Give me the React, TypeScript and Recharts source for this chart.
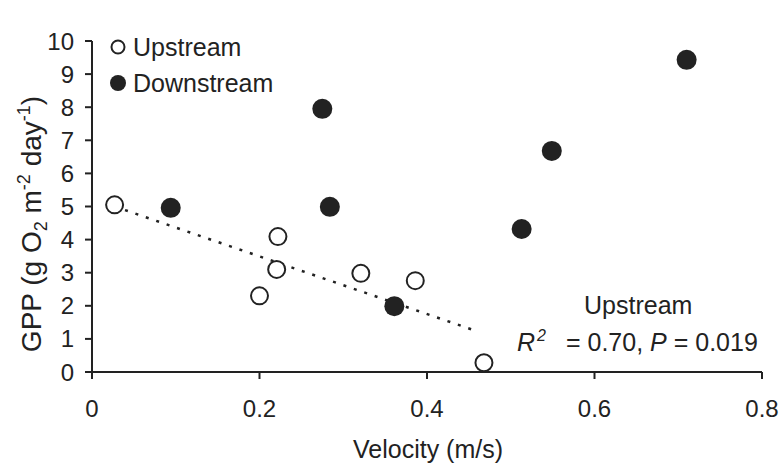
import React from 'react';
import { ScatterChart, Scatter, XAxis, YAxis, ReferenceLine } from 'recharts';

// values
const upstreamVelocity = [0.027, 0.2, 0.222, 0.2205, 0.321, 0.386, 0.468];
const upstreamGpp = [5.05, 2.3, 4.09, 3.1, 2.98, 2.76, 0.28];

const downstreamVelocity = [0.094, 0.275, 0.284, 0.361, 0.513, 0.549, 0.71];
const downstreamGpp = [4.96, 7.95, 4.99, 1.99, 4.32, 6.68, 9.43];

// upstream regression (dotted), end points as drawn
const trendVelocity = [0.027, 0.461];
const trendGpp = [5.0, 1.22];

const xTicks = [0, 0.2, 0.4, 0.6, 0.8];
const yTicks = [0, 1, 2, 3, 4, 5, 6, 7, 8, 9, 10];

const ink = '#222';
const font = '"Liberation Sans", Arial, sans-serif';

const upstream = upstreamVelocity.map((v, i) => ({ x: v, y: upstreamGpp[i] }));
const downstream = downstreamVelocity.map((v, i) => ({ x: v, y: downstreamGpp[i] }));
const trend = trendVelocity.map((v, i) => ({ x: v, y: trendGpp[i] }));

const OpenDot = (p: any) => (
    <circle cx={p.cx} cy={p.cy} r={8.5} fill="#fff" stroke={ink} strokeWidth={2} />
);
const FilledDot = (p: any) => <circle cx={p.cx} cy={p.cy} r={10} fill={ink} />;

const LegendBox = () => (
    <div style={{
        position: 'absolute', left: 108, top: 29, fontFamily: font, fontSize: 25,
        color: ink, lineHeight: '36px'
    }}>
        <div style={{ display: 'flex', alignItems: 'center' }}>
            <svg width={20} height={20} style={{ marginRight: 5 }}>
                <circle cx={10} cy={10} r={6.5} fill="#fff" stroke={ink} strokeWidth={2} />
            </svg>
            Upstream
        </div>
        <div style={{ display: 'flex', alignItems: 'center' }}>
            <svg width={20} height={20} style={{ marginRight: 5 }}>
                <circle cx={10} cy={10} r={8} fill={ink} />
            </svg>
            Downstream
        </div>
    </div>
);

const YTitle = () => (
    <text transform="translate(41,224) rotate(-90)" textAnchor="middle" fill={ink}
        style={{ fontFamily: font, fontSize: 28 }}>
        GPP (g O<tspan dy={6} fontSize={18}>2</tspan>
        <tspan dy={-6}> m</tspan><tspan dy={-11} fontSize={18}>-2</tspan>
        <tspan dy={11}> day</tspan><tspan dy={-11} fontSize={18}>-1</tspan>
        <tspan dy={11}>)</tspan>
    </text>
);

const XTitle = () => (
    <text x={428} y={458} textAnchor="middle" fill={ink} style={{ fontFamily: font, fontSize: 25 }}>
        Velocity (m/s)
    </text>
);

export default function App() {
    return (
        <div style={{ position: 'fixed', left: 0, top: 0, width: 782, height: 464, background: '#fff' }}>
            <ScatterChart width={782} height={464} margin={{ top: 41, right: 20, left: 12, bottom: 32 }}>
                <XAxis
                    type="number"
                    dataKey="x"
                    domain={[0, 0.8]}
                    ticks={xTicks}
                    tickFormatter={(v) => (v === 0 ? '0' : v.toFixed(1))}
                    height={60}
                    tickSize={7}
                    tickMargin={21}
                    stroke={ink}
                    strokeWidth={2}
                    tick={{ fill: ink, fontSize: 24, fontFamily: font }}
                    label={<XTitle />}
                />
                <YAxis
                    type="number"
                    dataKey="y"
                    domain={[0, 10]}
                    ticks={yTicks}
                    width={80}
                    tickSize={7}
                    tickMargin={11}
                    stroke={ink}
                    strokeWidth={2}
                    tick={{ fill: ink, fontSize: 24, fontFamily: font }}
                    label={<YTitle />}
                />
                <Scatter name="Upstream" data={upstream} shape={OpenDot} isAnimationActive={false} />
                <Scatter name="Downstream" data={downstream} shape={FilledDot} isAnimationActive={false} />
                <ReferenceLine
                    segment={trend}
                    stroke={ink}
                    strokeWidth={2.5}
                    strokeDasharray="3 8"
                    ifOverflow="visible"
                />
            </ScatterChart>
            <LegendBox />
            <div style={{
                position: 'absolute', left: 500, top: 287, width: 276,
                fontFamily: font, fontSize: 25, color: ink, lineHeight: '37px'
            }}>
                <div style={{ paddingLeft: 84 }}>Upstream</div>
                <div style={{ paddingLeft: 17 }}>
                    <i>R</i><span style={{ fontSize: 16, position: 'relative', top: -10, lineHeight: 0, marginLeft: 2 }}><i>2</i></span>
                    <span style={{ marginLeft: 20 }}>= 0.70, <i>P</i> = 0.019</span>
                </div>
            </div>
        </div>
    );
}
